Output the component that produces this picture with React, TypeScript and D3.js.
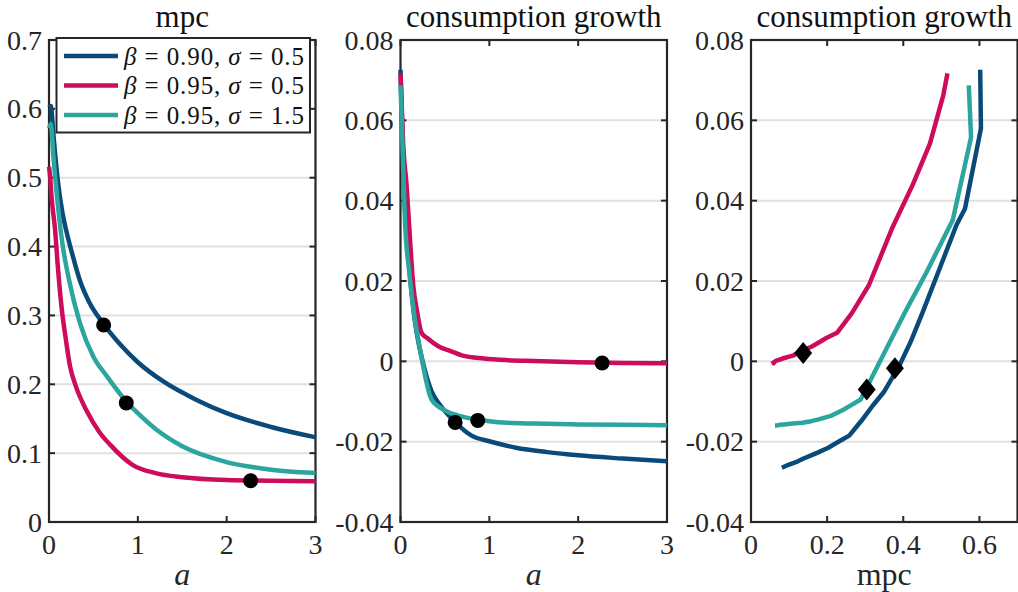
import React from 'react';
import * as d3 from 'd3';

// beta = 0.90, sigma = 0.5
const aBlue = [0, 0.02, 0.05, 0.065, 0.1, 0.15, 0.2, 0.26, 0.35, 0.45, 0.6, 0.8, 1.0, 1.3, 1.65, 2.0, 2.5, 3.0, 4.0, 5.5];
const mpcBlue = [0.602, 0.604, 0.562, 0.54, 0.495, 0.45, 0.42, 0.39, 0.35, 0.32, 0.29, 0.258, 0.232, 0.203, 0.178, 0.158, 0.138, 0.123, 0.1, 0.081];
const growthBlue = [0.0726, 0.058, 0.038, 0.034, 0.023, 0.012, 0.005, -0.001, -0.0075, -0.011, -0.0148, -0.0185, -0.0199, -0.0215, -0.0226, -0.0234, -0.0242, -0.0249, -0.0257, -0.0265];

// beta = 0.95, sigma = 0.5
const aRed = [0, 0.01, 0.03, 0.068, 0.1, 0.143, 0.19, 0.237, 0.3, 0.43, 0.57, 0.69, 0.94, 1.2, 1.5, 2.0, 2.5, 3.0, 4.0, 5.5];
const mpcRed = [0.516, 0.505, 0.47, 0.425, 0.37, 0.31, 0.265, 0.226, 0.198, 0.16, 0.13, 0.112, 0.083, 0.071, 0.065, 0.061, 0.06, 0.059, 0.056, 0.054];
const growthRed = [0.0717, 0.0662, 0.0542, 0.044, 0.033, 0.019, 0.012, 0.0071, 0.0058, 0.0037, 0.0025, 0.0015, 0.0007, 0.0003, 0.0001, -0.0002, -0.0004, -0.0005, -0.0005, -0.0006];

// beta = 0.95, sigma = 1.5
const aTeal = [0, 0.02, 0.05, 0.1, 0.15, 0.22, 0.35, 0.5, 0.65, 0.87, 1.0, 1.2, 1.5, 2.0, 2.5, 3.0, 4.0, 5.5];
const mpcTeal = [0.572, 0.578, 0.53, 0.46, 0.405, 0.355, 0.288, 0.24, 0.212, 0.175, 0.158, 0.135, 0.11, 0.087, 0.076, 0.071, 0.066, 0.063];
const growthTeal = [0.0687, 0.0558, 0.0352, 0.022, 0.0123, 0.003, -0.0095, -0.0122, -0.0135, -0.0145, -0.0149, -0.0153, -0.0155, -0.0157, -0.0158, -0.0159, -0.016, -0.016];

// markers (blue, red, teal)
const dotA = [0.615, 2.27, 0.87];
const dotMpc = [0.286, 0.06, 0.173];
const dotGrowth = [-0.0152, -0.0004, -0.0147];
const diamondMpc = [0.378, 0.137, 0.304];
const diamondGrowth = [-0.0017, 0.0021, -0.007];

const aTicks = [0, 1, 2, 3];
const mpcTicks = [0, 0.1, 0.2, 0.3, 0.4, 0.5, 0.6, 0.7];
const growthTicks = [-0.04, -0.02, 0, 0.02, 0.04, 0.06, 0.08];
const mpcXTicks = [0, 0.2, 0.4, 0.6];

const seriesNames = ['0.90', '0.95', '0.95'];
const sigmaNames = ['0.5', '0.5', '1.5'];
const colors = ['#0a4a7a', '#cd0c5b', '#2ca59f'];

const FONT = '"Liberation Serif", "DejaVu Serif", serif';
const INK = '#262626';
const TOP = 40;
const BOTTOM = 522;
const PW = 266.5;

const fmt = (v: number) => String(+v.toFixed(3));

type Series = { xs: number[]; ys: number[]; color: string };
type Marker = { x: number; y: number };

function Panel(props: {
  left: number; id: string; title: string; xLabel: string; xItalic: boolean;
  xDomain: [number, number]; xTicks: number[]; yDomain: [number, number]; yTicks: number[];
  series: Series[]; markers: Marker[]; shape: 'dot' | 'diamond'; clip: boolean; smooth: boolean;
  children?: React.ReactNode;
}) {
  const { left, id, title, xLabel, xItalic, xDomain, xTicks, yDomain, yTicks, series, markers, shape, clip, smooth } = props;
  const x = d3.scaleLinear().domain(xDomain).range([left, left + PW]);
  const y = d3.scaleLinear().domain(yDomain).range([BOTTOM, TOP]);
  const line = d3.line<number>().curve(smooth ? d3.curveMonotoneX : d3.curveLinear);
  const mid = left + PW / 2;

  return (
    <g>
      <defs>
        <clipPath id={id}>
          <rect x={left - 3} y={TOP - 4} width={PW + 3} height={BOTTOM - TOP + 8} />
        </clipPath>
      </defs>
      {yTicks.map(t => (
        <line key={'g' + t} x1={left} x2={left + PW} y1={y(t)} y2={y(t)} stroke="#e0e0e0" strokeWidth={2} />
      ))}
      <rect x={left} y={TOP} width={PW} height={BOTTOM - TOP} fill="none" stroke={INK} strokeWidth={2.2} />
      {yTicks.map(t => (
        <g key={'yt' + t}>
          <line x1={left} x2={left + 6} y1={y(t)} y2={y(t)} stroke={INK} strokeWidth={2} />
          <line x1={left + PW - 6} x2={left + PW} y1={y(t)} y2={y(t)} stroke={INK} strokeWidth={2} />
          <text x={left - 7} y={y(t)} dy="0.34em" textAnchor="end" fontFamily={FONT} fontSize={28} fill={INK}>{fmt(t)}</text>
        </g>
      ))}
      {xTicks.map(t => (
        <g key={'xt' + t}>
          <line x1={x(t)} x2={x(t)} y1={BOTTOM} y2={BOTTOM - 6} stroke={INK} strokeWidth={2} />
          <line x1={x(t)} x2={x(t)} y1={TOP} y2={TOP + 6} stroke={INK} strokeWidth={2} />
          <text x={x(t)} y={554} textAnchor="middle" fontFamily={FONT} fontSize={28} fill={INK}>{fmt(t)}</text>
        </g>
      ))}
      <text x={mid} y={26.5} textAnchor="middle" fontFamily={FONT} fontSize={31} fill="#111">{title}</text>
      <text x={mid} y={585} textAnchor="middle" fontFamily={FONT} fontSize={32} fontStyle={xItalic ? 'italic' : 'normal'} fill={INK}>{xLabel}</text>
      <g clipPath={clip ? `url(#${id})` : undefined}>
        {series.map((s, i) => (
          <path key={i} d={line.x((_, j) => x(s.xs[j])).y((_, j) => y(s.ys[j]))(s.xs) || ''}
            fill="none" stroke={s.color} strokeWidth={4.5} strokeLinejoin="round" />
        ))}
      </g>
      {markers.map((m, i) => shape === 'dot'
        ? <circle key={i} cx={x(m.x)} cy={y(m.y)} r={7.5} fill="#000" />
        : <path key={i} d={`M${x(m.x)},${y(m.y) - 11}L${x(m.x) + 9},${y(m.y)}L${x(m.x)},${y(m.y) + 11}L${x(m.x) - 9},${y(m.y)}Z`} fill="#000" />
      )}
      {props.children}
    </g>
  );
}

function Legend() {
  const lx = 56.5, ly = 38, lw = 253.5, lh = 94.5;
  const rows = [56, 85.5, 115];
  return (
    <g>
      <rect x={lx} y={ly} width={lw} height={lh} fill="#fff" stroke={INK} strokeWidth={2} />
      {rows.map((ry, i) => (
        <g key={i}>
          <line x1={64} x2={118} y1={ry} y2={ry} stroke={colors[i]} strokeWidth={4.5} />
          <text x={124} y={ry} dy="0.34em" fontFamily={FONT} fontSize={25} fill="#111"
            textLength={180} lengthAdjust="spacing">
            <tspan fontStyle="italic">β</tspan>
            <tspan>{` = ${seriesNames[i]}, `}</tspan>
            <tspan fontStyle="italic">σ</tspan>
            <tspan>{` = ${sigmaNames[i]}`}</tspan>
          </text>
        </g>
      ))}
    </g>
  );
}

export default function App() {
  const aSeries = [aBlue, aRed, aTeal];
  const mpcSeries = [mpcBlue, mpcRed, mpcTeal];
  const growthSeries = [growthBlue, growthRed, growthTeal];

  const s1: Series[] = aSeries.map((a, i) => ({ xs: a, ys: mpcSeries[i], color: colors[i] }));
  const s2: Series[] = aSeries.map((a, i) => ({ xs: a, ys: growthSeries[i], color: colors[i] }));
  const s3: Series[] = mpcSeries.map((m, i) => ({ xs: m, ys: growthSeries[i], color: colors[i] }));

  return (
    <div style={{ position: 'fixed', left: 0, top: 0 }}>
      <svg width={1018} height={592} style={{ display: 'block', background: '#fff' }}>
        <Panel left={49} id="c1" title="mpc" xLabel="a" xItalic xDomain={[0, 3]} xTicks={aTicks}
          yDomain={[0, 0.7]} yTicks={mpcTicks} series={s1} smooth
          markers={dotA.map((a, i) => ({ x: a, y: dotMpc[i] }))} shape="dot" clip>
          <Legend />
        </Panel>
        <Panel left={400.5} id="c2" title="consumption growth" xLabel="a" xItalic xDomain={[0, 3]} xTicks={aTicks}
          yDomain={[-0.04, 0.08]} yTicks={growthTicks} series={s2} smooth
          markers={dotA.map((a, i) => ({ x: a, y: dotGrowth[i] }))} shape="dot" clip />
        <Panel left={751} id="c3" title="consumption growth" xLabel="mpc" xItalic={false} xDomain={[0, 0.7]} xTicks={mpcXTicks}
          yDomain={[-0.04, 0.08]} yTicks={growthTicks} series={s3} smooth={false}
          markers={diamondMpc.map((m, i) => ({ x: m, y: diamondGrowth[i] }))} shape="diamond" clip={false} />
      </svg>
    </div>
  );
}
